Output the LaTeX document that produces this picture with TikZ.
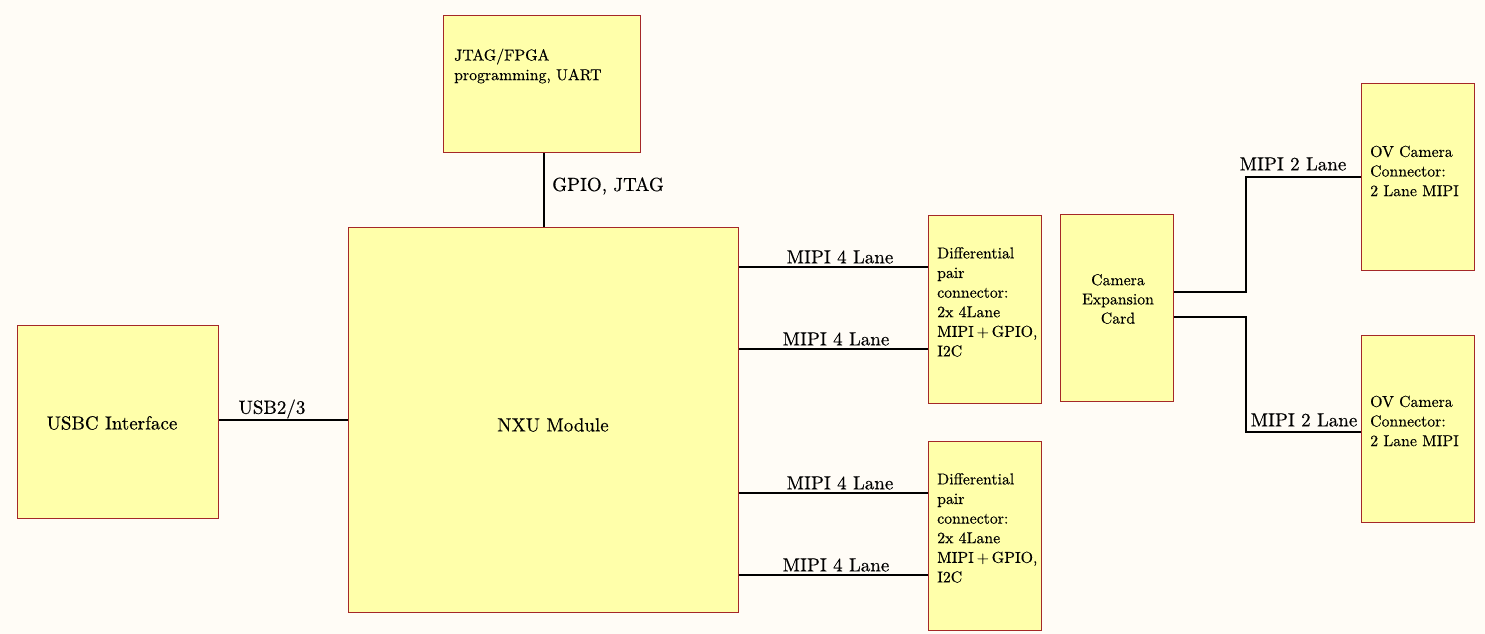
\documentclass[tikz,border=0pt]{standalone}
\usepackage{fontspec}
\newfontfamily\tnr{lmroman10-regular.otf}[FakeBold=0.4]
\definecolor{bg}{RGB}{255,252,246}
\definecolor{boxfill}{RGB}{255,255,170}
\definecolor{boxline}{RGB}{165,40,40}
\tikzset{
  blk/.style={draw=boxline, fill=boxfill, line width=1.2pt, inner sep=0pt, anchor=north west},
  conn/.style={draw=black, line width=1.8pt},
  small/.style={font=\tnr\fontsize{15.8}{19.6}\selectfont, inner sep=0pt, align=left},
  smallc/.style={font=\tnr\fontsize{15.8}{19.2}\selectfont, inner sep=0pt, align=center},
  lbl/.style={font=\tnr\fontsize{19}{24}\selectfont, inner sep=0pt}
}
\newcommand{\mipigpio}{MIPI\hspace{0.18em}+\hspace{0.18em}GPIO,}
\begin{document}
\begin{tikzpicture}[x=1pt,y=-1pt]
\fill[bg] (0,0) rectangle (1485,634);
\useasboundingbox (0,0) rectangle (1485,634);
% boxes
\node[blk, minimum width=197pt, minimum height=137pt] (jtag) at (443,15) {};
\node[blk, minimum width=390pt, minimum height=385pt] (nxu) at (348,227) {};
\node[blk, minimum width=201pt, minimum height=193pt] (usbc) at (17,325) {};
\node[blk, minimum width=113pt, minimum height=188pt] (diffa) at (928,215) {};
\node[blk, minimum width=113pt, minimum height=189pt] (diffb) at (928,441) {};
\node[blk, minimum width=113pt, minimum height=187pt] (cam) at (1060,214) {};
\node[blk, minimum width=113pt, minimum height=187pt] (ova) at (1361,83) {};
\node[blk, minimum width=113pt, minimum height=187pt] (ovb) at (1361,335) {};
% box texts
\node[small, anchor=west] (jtagt) at (454,66) {JTAG/FPGA\\programming, UART};
\node[lbl] (nxut) at (553,425) {NXU Module};
\node[lbl] (usbct) at (112,423) {USBC Interface};
\node[small, anchor=west] (diffat) at (937,302) {Differential\\pair\\connector:\\2x 4Lane\\\mipigpio\\I2C};
\node[small, anchor=west] (diffbt) at (937,528) {Differential\\pair\\connector:\\2x 4Lane\\\mipigpio\\I2C};
\node[smallc] (camt) at (1118,299) {Camera\\Expansion\\Card};
\node[small, anchor=west] (ovat) at (1370,171) {OV Camera\\Connector:\\2 Lane MIPI};
\node[small, anchor=west] (ovbt) at (1370,421) {OV Camera\\Connector:\\2 Lane MIPI};
% connectors
\draw[conn] (jtag.south -| 544,0) -- (nxu.north -| 544,0);
\node[lbl, anchor=west] (gpiol) at (552,186) {GPIO, JTAG};
\draw[conn] (usbc.east |- 0,420) -- (nxu.west |- 0,420);
\node[lbl] (usbl) at (272,409) {USB2/3};
\draw[conn] (nxu.east |- 0,267) -- (diffa.west |- 0,267);
\node[lbl] (m1) at (840,257) {MIPI 4 Lane};
\draw[conn] (nxu.east |- 0,349) -- (diffa.west |- 0,349);
\node[lbl] (m2) at (836,339) {MIPI 4 Lane};
\draw[conn] (nxu.east |- 0,493) -- (diffb.west |- 0,493);
\node[lbl] (m3) at (840,483) {MIPI 4 Lane};
\draw[conn] (nxu.east |- 0,575) -- (diffb.west |- 0,575);
\node[lbl] (m4) at (836,565) {MIPI 4 Lane};
\draw[conn] (cam.east |- 0,292) -- (1246,292) -- (1246,177) -- (ova.west |- 0,177);
\node[lbl] (c1) at (1293,164) {MIPI 2 Lane};
\draw[conn] (cam.east |- 0,317) -- (1246,317) -- (1246,432) -- (ovb.west |- 0,432);
\node[lbl] (c2) at (1304,420) {MIPI 2 Lane};
\end{tikzpicture}
\end{document}
